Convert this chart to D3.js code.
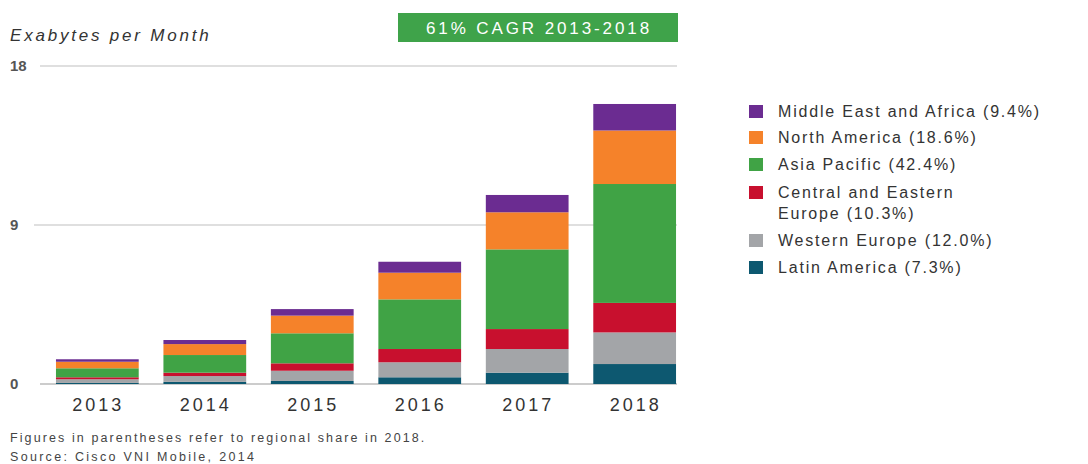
<!DOCTYPE html>
<html>
<head>
<meta charset="utf-8">
<script src="https://cdn.jsdelivr.net/npm/d3@7"></script>
<style>
  body { margin: 0; background: #fff; }
  text { font-family: "Liberation Sans", Arial, sans-serif; }
</style>
</head>
<body>
<div id="graph"></div>
<script>
var WIDTH = 1088;
var HEIGHT = 464;

// data (exabytes per month)
var years = ["2013", "2014", "2015", "2016", "2017", "2018"];
var regions = ["Latin America", "Western Europe", "Central and Eastern Europe", "Asia Pacific", "North America", "Middle East and Africa"];
var latinAmerica = [0.06, 0.12, 0.17, 0.38, 0.64, 1.13];
var westernEurope = [0.21, 0.33, 0.58, 0.85, 1.34, 1.79];
var centralEastEurope = [0.11, 0.19, 0.42, 0.75, 1.13, 1.67];
var asiaPacific = [0.51, 1.00, 1.70, 2.81, 4.51, 6.73];
var northAmerica = [0.37, 0.62, 1.00, 1.51, 2.10, 3.03];
var middleEastAfrica = [0.14, 0.23, 0.37, 0.62, 0.98, 1.50];
var yTicks = [0, 9, 18];

// legend order (top to bottom)
var legendLabels = [
  ["Middle East and Africa (9.4%)"],
  ["North America (18.6%)"],
  ["Asia Pacific (42.4%)"],
  ["Central and Eastern", "Europe (10.3%)"],
  ["Western Europe (12.0%)"],
  ["Latin America (7.3%)"]
];

var colors = {
  "Latin America": "#0d5870",
  "Western Europe": "#a3a5a8",
  "Central and Eastern Europe": "#c8102e",
  "Asia Pacific": "#40a345",
  "North America": "#f5822a",
  "Middle East and Africa": "#6b2c91"
};

var series = [latinAmerica, westernEurope, centralEastEurope, asiaPacific, northAmerica, middleEastAfrica];
var table = years.map(function(y, i) {
  var row = { year: y };
  regions.forEach(function(r, k) { row[r] = series[k][i]; });
  return row;
});

var svg = d3.select("#graph").append("svg")
  .attr("width", WIDTH).attr("height", HEIGHT);

var x = d3.scaleBand().domain(years).range([42, 690])
  .paddingInner(0.23).paddingOuter(0.13);
var y = d3.scaleLinear().domain([0, 18]).range([384, 66]);

// axis title
svg.append("text")
  .attr("x", 10).attr("y", 41)
  .attr("font-size", 17).attr("font-style", "italic")
  .attr("letter-spacing", 2.8)
  .attr("fill", "#333")
  .text("Exabytes per Month");

// CAGR badge
svg.append("rect")
  .attr("x", 398).attr("y", 13).attr("width", 280).attr("height", 29)
  .attr("fill", "#3fa34a");
svg.append("text")
  .attr("x", 539).attr("y", 34)
  .attr("text-anchor", "middle")
  .attr("font-size", 17).attr("fill", "#fff")
  .attr("letter-spacing", 2.9)
  .text("61% CAGR 2013-2018");

// gridlines + tick labels
var grid = svg.append("g");
grid.selectAll("line").data(yTicks).enter().append("line")
  .attr("x1", function(d) { return d === 9 ? 34 : 40; })
  .attr("x2", 677)
  .attr("y1", function(d) { return y(d); })
  .attr("y2", function(d) { return y(d); })
  .attr("stroke", function(d) { return d === 0 ? "#bbb" : "#d4d4d4"; })
  .attr("stroke-width", 1.5);
grid.selectAll("text").data(yTicks).enter().append("text")
  .attr("x", 10)
  .attr("y", function(d) { return y(d) + 5; })
  .attr("font-size", 15).attr("font-weight", "bold")
  .attr("fill", "#555")
  .text(function(d) { return d; });

// stacked bars
var stack = d3.stack().keys(regions)(table);
svg.append("g").selectAll("g").data(stack).enter().append("g")
  .attr("fill", function(d) { return colors[d.key]; })
  .selectAll("rect").data(function(d) { return d; }).enter().append("rect")
  .attr("x", function(d) { return x(d.data.year); })
  .attr("width", x.bandwidth())
  .attr("y", function(d) { return y(d[1]); })
  .attr("height", function(d) { return y(d[0]) - y(d[1]); });

// year labels
svg.append("g").selectAll("text").data(years).enter().append("text")
  .attr("x", function(d) { return x(d) + x.bandwidth() / 2 + 1; })
  .attr("y", 411)
  .attr("text-anchor", "middle")
  .attr("font-size", 18).attr("fill", "#333")
  .attr("letter-spacing", 3)
  .text(function(d) { return d; });

// legend
var legendKeys = regions.slice().reverse();
var legendY = [111, 137, 164, 192, 240, 267];
var lg = svg.append("g");
legendKeys.forEach(function(k, i) {
  lg.append("rect")
    .attr("x", 749).attr("y", legendY[i] - 6)
    .attr("width", 14).attr("height", 13)
    .attr("fill", colors[k]);
  legendLabels[i].forEach(function(line, j) {
    lg.append("text")
      .attr("x", 778).attr("y", legendY[i] + 6 + j * 21)
      .attr("font-size", 16).attr("fill", "#333")
      .attr("letter-spacing", 1.8)
      .text(line);
  });
});

// footnotes
svg.append("text")
  .attr("x", 10).attr("y", 442)
  .attr("font-size", 12.5).attr("fill", "#444")
  .attr("letter-spacing", 2.1)
  .text("Figures in parentheses refer to regional share in 2018.");
svg.append("text")
  .attr("x", 10).attr("y", 461)
  .attr("font-size", 12.5).attr("fill", "#444")
  .attr("letter-spacing", 2.3)
  .text("Source: Cisco VNI Mobile, 2014");
</script>
</body>
</html>
